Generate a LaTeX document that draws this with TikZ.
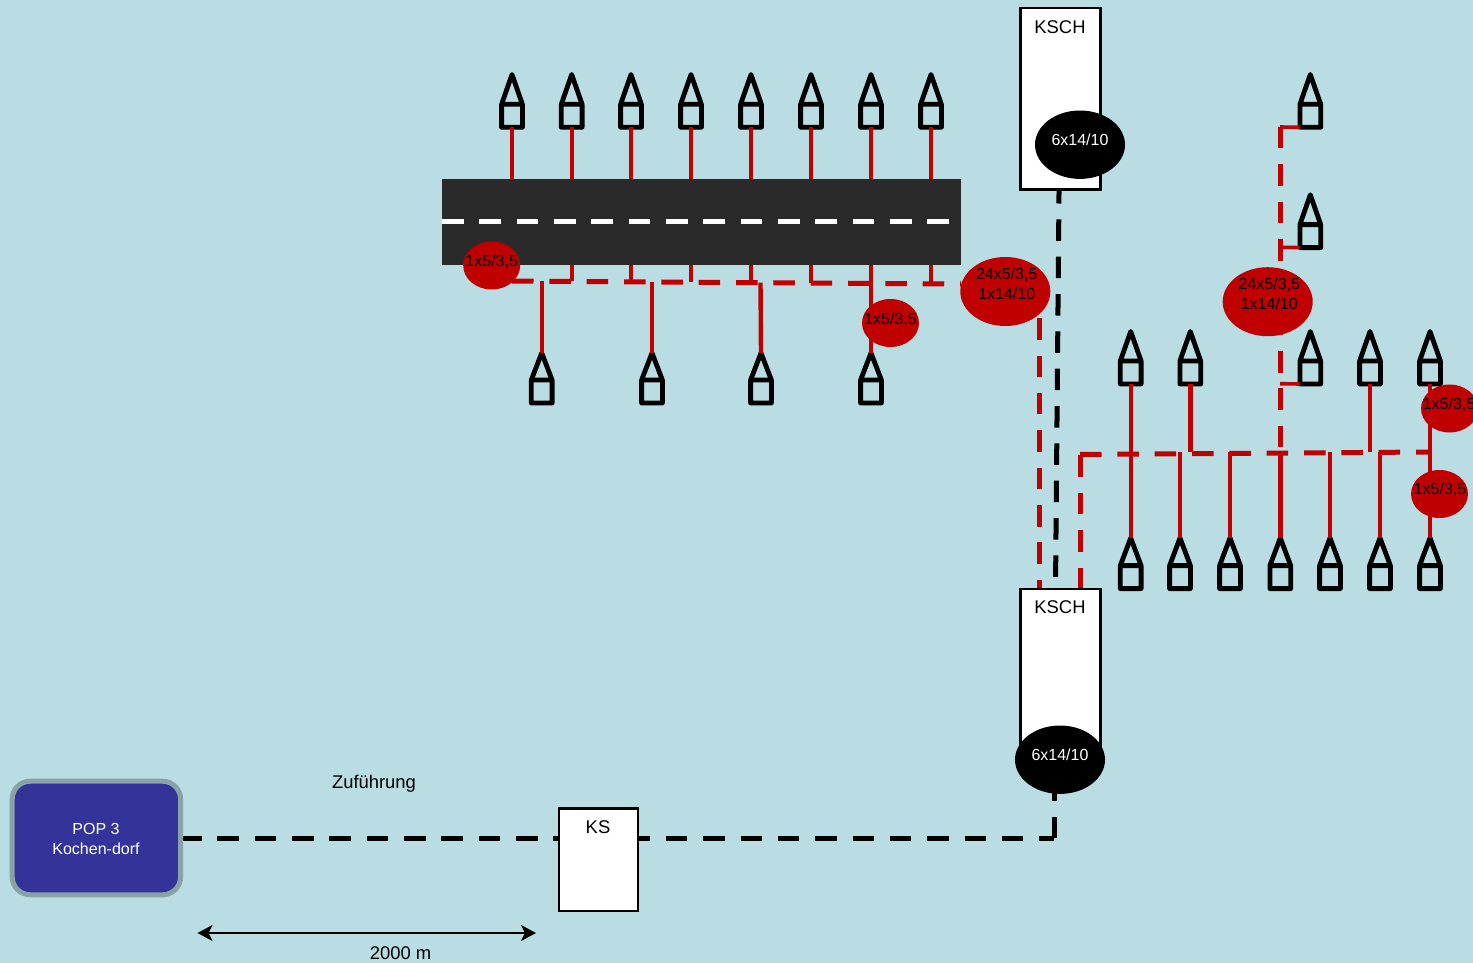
\documentclass[tikz,border=0pt]{standalone}
\usepackage{fontspec}
\setmainfont{Liberation Sans}
\usetikzlibrary{shapes.geometric,arrows.meta}
\definecolor{bgc}{HTML}{BADDE3}
\definecolor{redc}{HTML}{C00000}
\definecolor{roadc}{HTML}{2A2A2A}
\definecolor{popc}{HTML}{333399}
\definecolor{popb}{HTML}{88A3A6}
\tikzset{
  pics/house/.style={code={
    \draw[line width=2.4pt,line join=round,line cap=round]
      (-10.4,#1) rectangle (10.4,{#1-23})
      (-10.4,{#1-23}) -- (0,0) -- (10.4,{#1-23});
    \coordinate (-top) at (0,0);
    \coordinate (-bot) at (0,#1);
    \coordinate (-bl) at (-10.4,#1);
  }},
  rthick/.style={draw=redc,line width=2.2pt},
  rthin/.style={draw=redc,line width=1.8pt},
  dashline/.style={line width=2.5pt,dash pattern=on 10.75pt off 7.92pt},
  rdash/.style={dashline,draw=redc},
  bdash/.style={dashline,draw=black},
  whitebox/.style={draw=black,fill=white,line width=1.25pt},
  oval/.style={ellipse,inner sep=0pt,minimum width=28.5pt,minimum height=24pt},
  bigoval/.style={ellipse,inner sep=0pt,minimum width=45pt,minimum height=34.5pt},
  smalltxt/.style={font=\fontsize{8}{10}\selectfont,inner sep=0pt,align=center},
  largetxt/.style={font=\fontsize{9.2}{11}\selectfont,inner sep=0pt,align=center},
}
\begin{document}
\begin{tikzpicture}[x=.5pt,y=-.5pt]
\clip (0,0) rectangle (1473,963);
\fill[bgc] (0,0) rectangle (1473,963);
% junctions on the red feeder lines
\foreach \n/\x in {1/512,2/571.7,3/631,4/691,5/751,6/811,7/871,8/931}{
  \pgfmathsetmacro{\yy}{281+(\x-512)*3/449}
  \coordinate (J\n) at (\x,\yy);
}
\foreach \n/\x in {1/541.7,2/652,3/760.5,4/871}{
  \pgfmathsetmacro{\yy}{281+(\x-512)*3/449}
  \coordinate (K\n) at (\x,\yy);
}
% houses
\foreach \n/\x in {1/512,2/571.7,3/631,4/691,5/751,6/811,7/871,8/931}
  \pic (T\n) at (\x,74.5) {house=52.8};
\foreach \n/\x in {1/541.7,2/652,3/761,4/871}
  \pic (L\n) at (\x,353) {house=50};
\foreach \n/\x in {1/1130.7,2/1190.3,3/1310.3,4/1370,5/1430}
  \pic (U\n) at (\x,331.5) {house=52.5};
\foreach \n/\x in {1/1130.7,2/1180,3/1230,4/1280.3,5/1330,6/1380,7/1430}
  \pic (B\n) at (\x,538) {house=50.6};
\pic (R1) at (1310.3,74.5) {house=52.8};
\pic (R2) at (1310.3,194.8) {house=52.8};
% coordinates of the dashed lines
\coordinate (Astart) at (512,281);
\coordinate (Aend) at (961,284);
\coordinate (Bstart) at (1039,318.3);
\coordinate (Bend) at (1039,589);
\coordinate (Cstart) at (1080,589);
\coordinate (Ccorner) at (1080,454.5);
\coordinate (Cend) at (1430,452);
\coordinate (Dtop) at (1280,127);
\coordinate (Dend) at (1280,452);
\coordinate (D2) at (1280,247.3);
\coordinate (D3) at (1280,383.7);
% red solid lines (drawn first)
\foreach \n/\s in {1/rthick,2/rthin,3/rthick,4/rthin,5/rthick,6/rthin,7/rthick,8/rthin}
  \draw[\s] (T\n-bot) -- (J\n);
\foreach \n/\s in {1/rthick,2/rthin,3/rthick,4/rthick}
  \draw[\s] (K\n) -- (L\n-top);
\draw[rthin] (U1-bot) -- (B1-top);
\draw[rthick] (U2-bot) -- (U2-bot |- Cend);
\draw[rthin] (U4-bot) -- (U4-bot |- Cend);
\draw[rthick] (U5-bot) -- (B7-top);
\foreach \n/\s in {2/rthin,3/rthick,4/rthick,5/rthin,6/rthin}
  \draw[\s] (B\n-top) -- (B\n-top |- Cend);
\draw[rthin] (R1-bl) -- (Dtop);
\draw[rthin] (R2-bl) -- (D2);
\draw[rthin] (U3-bl) -- (D3);
% red dashed lines
\draw[rdash] (Astart) -- (Aend);
\draw[rdash] (Bstart) -- (Bend);
\draw[rdash] (Cstart) -- (Ccorner);
\draw[rdash] (Ccorner) -- (Cend);
\draw[rdash] (Dtop) -- (Dend);
% road
\node[fill=roadc,inner sep=0pt,minimum width=259.5pt,minimum height=43pt] (road) at (701.5,222) {};
\coordinate (roadL) at (442,221);
\coordinate (roadR) at (949,221);
\draw[dashline,draw=white] (roadL) -- (roadR);
% black dashed lines
\coordinate (blackA) at (180,838);
\coordinate (blackB) at (558,838);
\coordinate (blackC) at (628.5,838);
\coordinate (blackD) at (1054,838);
\coordinate (blackE) at (1054,790);
\coordinate (blackF) at (1059.1,182);
\coordinate (blackG) at (1055.4,600);
\draw[bdash] (blackA) -- (blackB);
\draw[bdash] (blackC) -- (blackD);
\draw[bdash] (blackD) -- (blackE);
\draw[bdash] (blackF) -- (blackG);
% boxes
\node[whitebox,inner sep=0pt,minimum width=40pt,minimum height=90.75pt] (ksch1) at (1060.5,98.75) {};
\node[whitebox,inner sep=0pt,minimum width=40pt,minimum height=90pt] (ksch2) at (1060.5,679) {};
\node[whitebox,line width=1.1pt,inner sep=0pt,minimum width=39.5pt,minimum height=51.25pt] (ks) at (598.3,859.75) {};
\node[draw=popb,fill=popc,line width=2.5pt,rounded corners=9pt,inner sep=0pt,minimum width=84.2pt,minimum height=56.8pt] (pop) at (96.4,838) {};
% ovals
\node[oval,fill=black,minimum width=45pt,minimum height=34.2pt] (o1) at (1080,144.7) {};
\node[oval,fill=black,minimum width=45pt,minimum height=34.2pt] (o2) at (1060,759.7) {};
\node[oval,fill=redc] (r1) at (491.7,265.5) {};
\node[oval,fill=redc] (r2) at (890.5,323) {};
\node[oval,fill=redc] (r3) at (1449.5,408.5) {};
\node[oval,fill=redc] (r4) at (1439.5,494) {};
\node[bigoval,fill=redc] (r5) at (1005.3,291.5) {};
\node[bigoval,fill=redc] (r6) at (1267.7,301.7) {};
% texts
\node[largetxt] (tk1) at (1060,27) {KSCH};
\node[largetxt] (tk2) at (1060,607.5) {KSCH};
\node[largetxt] (tk3) at (598,827.5) {KS};
\node[largetxt] (tz) at (374,783.7) {Zuführung};
\node[largetxt] (tm) at (400.5,953) {2000 m};
\node[smalltxt,text=white] (tp) at (96,839.2) {POP 3\\Kochen-dorf};
\node[smalltxt,text=white] (to1) at (1080,140) {6x14/10};
\node[smalltxt,text=white] (to2) at (1060,755) {6x14/10};
\node[smalltxt] (tr1) at (491.7,262) {1x5/3,5};
\node[smalltxt] (tr2) at (890.5,320) {1x5/3,5};
\node[smalltxt] (tr3) at (1449,404.5) {1x5/3,5};
\node[smalltxt] (tr4) at (1440,489.5) {1x5/3,5};
\node[smalltxt] (tr5) at (1006.7,283.5) {24x5/3,5\\1x14/10};
\node[smalltxt] (tr6) at (1269.3,294) {24x5/3,5\\1x14/10};
% dimension arrow
\coordinate (arL) at (197.5,933);
\coordinate (arR) at (536,933);
\draw[line width=.75pt,{Stealth[length=7.5pt,width=8pt,inset=2pt]}-{Stealth[length=7.5pt,width=8pt,inset=2pt]}] (arL) -- (arR);
\end{tikzpicture}
\end{document}
